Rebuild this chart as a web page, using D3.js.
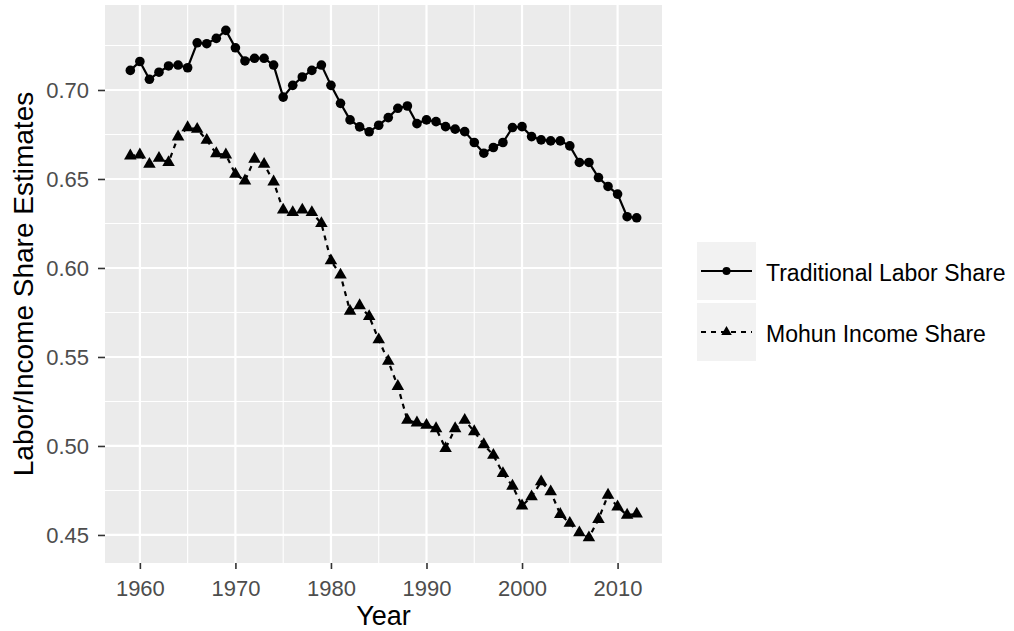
<!DOCTYPE html>
<html>
<head>
<meta charset="utf-8">
<script src="https://cdn.jsdelivr.net/npm/d3@7"></script>
<style>
  body { margin: 0; background: #fff; }
  text { font-family: "Liberation Sans", Arial, sans-serif; }
</style>
</head>
<body>
<div id="chart"></div>
<script>
// Data (1959-2012)
const years = [1959, 1960, 1961, 1962, 1963, 1964, 1965, 1966, 1967, 1968,
  1969, 1970, 1971, 1972, 1973, 1974, 1975, 1976, 1977, 1978,
  1979, 1980, 1981, 1982, 1983, 1984, 1985, 1986, 1987, 1988,
  1989, 1990, 1991, 1992, 1993, 1994, 1995, 1996, 1997, 1998,
  1999, 2000, 2001, 2002, 2003, 2004, 2005, 2006, 2007, 2008,
  2009, 2010, 2011, 2012];

const traditional = [0.711, 0.716, 0.706, 0.710, 0.7135, 0.714, 0.7125, 0.7265, 0.726, 0.729,
  0.7335, 0.7237, 0.7163, 0.7178, 0.7178, 0.714, 0.696, 0.7026, 0.7073, 0.711,
  0.714, 0.7026, 0.6925, 0.6832, 0.6793, 0.6765, 0.6802, 0.6845, 0.6897, 0.691,
  0.6811, 0.6832, 0.6822, 0.6794, 0.678, 0.6766, 0.6705, 0.6645, 0.6677, 0.6705,
  0.6789, 0.6794, 0.6738, 0.672, 0.6714, 0.6714, 0.6686, 0.6593, 0.6593, 0.6508,
  0.6458, 0.6415, 0.6288, 0.6282];

const mohun = [0.663, 0.6636, 0.6583, 0.6617, 0.6593, 0.6737, 0.6789, 0.678, 0.6718, 0.6643,
  0.6636, 0.6527, 0.649, 0.6612, 0.6583, 0.6484, 0.6326, 0.6312, 0.6326, 0.6312,
  0.625, 0.6041, 0.5961, 0.5757, 0.5789, 0.5728, 0.5597, 0.5476, 0.5335, 0.5145,
  0.513, 0.5117, 0.5098, 0.4986, 0.5098, 0.5145, 0.5081, 0.5008, 0.4948, 0.4846,
  0.4775, 0.4664, 0.4715, 0.4799, 0.4743, 0.4616, 0.4566, 0.4513, 0.4485, 0.4588,
  0.4724, 0.4658, 0.4612, 0.4618];

const seriesNames = ["Traditional Labor Share", "Mohun Income Share"];
const xTicks = [1960, 1970, 1980, 1990, 2000, 2010];
const yTicks = [0.45, 0.50, 0.55, 0.60, 0.65, 0.70];

// Panel geometry
const W = 1014, H = 631;
const panel = {left: 105, right: 662, top: 5, bottom: 563};

const svg = d3.select("#chart")
  .append("svg")
  .attr("width", W)
  .attr("height", H);

// ggplot-style 5% expansion of the data range
function expand(ext) {
  const pad = (ext[1] - ext[0]) * 0.05;
  return [ext[0] - pad, ext[1] + pad];
}

const x = d3.scaleLinear()
  .domain(expand(d3.extent(years)))
  .range([panel.left, panel.right]);

const y = d3.scaleLinear()
  .domain(expand(d3.extent(traditional.concat(mohun))))
  .range([panel.bottom, panel.top]);

// Panel background
svg.append("rect")
  .attr("x", panel.left)
  .attr("y", panel.top)
  .attr("width", panel.right - panel.left)
  .attr("height", panel.bottom - panel.top)
  .attr("fill", "#ebebeb");

// Minor grid halfway between major ticks
const xMinor = xTicks.slice(0, -1).map(d => d + 5)
  .filter(d => d > x.domain()[0] && d < x.domain()[1]);
const yMinor = yTicks.map(d => d + 0.025)
  .filter(d => d > y.domain()[0] && d < y.domain()[1]);

const grid = svg.append("g");
grid.selectAll(".xminor").data(xMinor).join("line")
  .attr("x1", d => x(d)).attr("x2", d => x(d))
  .attr("y1", panel.top).attr("y2", panel.bottom)
  .attr("stroke", "#fff").attr("stroke-width", 1.1);
grid.selectAll(".yminor").data(yMinor).join("line")
  .attr("y1", d => y(d)).attr("y2", d => y(d))
  .attr("x1", panel.left).attr("x2", panel.right)
  .attr("stroke", "#fff").attr("stroke-width", 1.1);
grid.selectAll(".xmajor").data(xTicks).join("line")
  .attr("x1", d => x(d)).attr("x2", d => x(d))
  .attr("y1", panel.top).attr("y2", panel.bottom)
  .attr("stroke", "#fff").attr("stroke-width", 2.2);
grid.selectAll(".ymajor").data(yTicks).join("line")
  .attr("y1", d => y(d)).attr("y2", d => y(d))
  .attr("x1", panel.left).attr("x2", panel.right)
  .attr("stroke", "#fff").attr("stroke-width", 2.2);

// Lines
const tradData = years.map((yr, i) => ({year: yr, value: traditional[i]}));
const mohunData = years.map((yr, i) => ({year: yr, value: mohun[i]}));

const line = d3.line()
  .x(d => x(d.year))
  .y(d => y(d.value));

svg.append("path")
  .datum(tradData)
  .attr("d", line)
  .attr("fill", "none")
  .attr("stroke", "#000")
  .attr("stroke-width", 2.2);

svg.append("path")
  .datum(mohunData)
  .attr("d", line)
  .attr("fill", "none")
  .attr("stroke", "#000")
  .attr("stroke-width", 2.2)
  .attr("stroke-dasharray", "5,5");

// Points
const triangle = d3.symbol().type(d3.symbolTriangle).size(68);

svg.append("g")
  .selectAll("circle")
  .data(tradData)
  .join("circle")
  .attr("cx", d => x(d.year))
  .attr("cy", d => y(d.value))
  .attr("r", 4.8)
  .attr("fill", "#000");

svg.append("g")
  .selectAll("path")
  .data(mohunData)
  .join("path")
  .attr("d", triangle)
  .attr("transform", d => `translate(${x(d.year)},${y(d.value)})`)
  .attr("fill", "#000");

// Axes
svg.append("g")
  .attr("transform", `translate(0,${panel.bottom})`)
  .call(d3.axisBottom(x).tickValues(xTicks).tickFormat(d3.format("d")).tickSize(6).tickPadding(11))
  .call(g => g.select(".domain").remove())
  .call(g => g.selectAll(".tick line").attr("stroke", "#333").attr("stroke-width", 1.6))
  .call(g => g.selectAll(".tick text")
    .attr("fill", "#4d4d4d")
    .style("font-size", "22px")
    .style("font-family", "Liberation Sans, Arial, sans-serif"));

svg.append("g")
  .attr("transform", `translate(${panel.left},0)`)
  .call(d3.axisLeft(y).tickValues(yTicks).tickFormat(d3.format(".2f")).tickSize(7).tickPadding(9))
  .call(g => g.select(".domain").remove())
  .call(g => g.selectAll(".tick line").attr("stroke", "#333").attr("stroke-width", 1.6))
  .call(g => g.selectAll(".tick text")
    .attr("fill", "#4d4d4d")
    .style("font-size", "22px")
    .style("font-family", "Liberation Sans, Arial, sans-serif"));

// Axis titles
svg.append("text")
  .attr("x", (panel.left + panel.right) / 2)
  .attr("y", 625)
  .attr("text-anchor", "middle")
  .style("font-size", "27px")
  .text("Year");

svg.append("text")
  .attr("transform", `translate(33,${(panel.top + panel.bottom) / 2}) rotate(-90)`)
  .attr("text-anchor", "middle")
  .style("font-size", "28px")
  .text("Labor/Income Share Estimates");

// Legend
const keyW = 59, keyH = 58;
const legend = svg.append("g")
  .attr("transform", "translate(697,242)");

const legendRow = legend.selectAll("g")
  .data(seriesNames)
  .join("g")
  .attr("transform", (_, i) => `translate(0,${i * (keyH + 3)})`);

legendRow.append("rect")
  .attr("width", keyW)
  .attr("height", keyH)
  .attr("fill", "#f2f2f2");

legendRow.append("line")
  .attr("x1", 4).attr("x2", keyW - 4)
  .attr("y1", keyH / 2).attr("y2", keyH / 2)
  .attr("stroke", "#000")
  .attr("stroke-width", 2)
  .attr("stroke-dasharray", (_, i) => i === 1 ? "5,5" : null);

legendRow.filter((_, i) => i === 0).append("circle")
  .attr("cx", keyW / 2).attr("cy", keyH / 2)
  .attr("r", 4)
  .attr("fill", "#000");

legendRow.filter((_, i) => i === 1).append("path")
  .attr("d", d3.symbol().type(d3.symbolTriangle).size(48))
  .attr("transform", `translate(${keyW / 2},${keyH / 2})`)
  .attr("fill", "#000");

legendRow.append("text")
  .attr("x", 69)
  .attr("y", keyH / 2 + 2)
  .attr("dy", "0.35em")
  .style("font-size", "23px")
  .text(d => d);
</script>
</body>
</html>
